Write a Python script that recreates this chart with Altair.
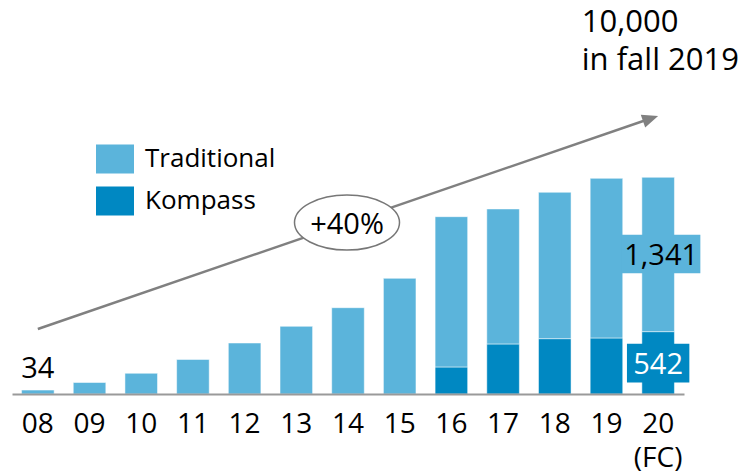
import altair as alt
import pandas as pd

years = ["08", "09", "10", "11", "12", "13", "14", "15", "16", "17", "18", "19", "20"]
traditional = [34, 100, 180, 300, 443, 588, 750, 1005, 1306, 1173, 1272, 1387, 1341]
kompass = [0, 0, 0, 0, 0, 0, 0, 0, 235, 435, 481, 487, 542]
series = ["Traditional", "Kompass"]
colors = ["#5BB4DB", "#0088C2"]

FONT = "Open Sans"
Y_MAX = 3424
GRAY = "#808080"

rows = []
for i, yr in enumerate(years):
    if kompass[i] > 0:
        rows.append({"year": yr, "series": "Kompass", "value": kompass[i], "ord": 0})
    rows.append({"year": yr, "series": "Traditional", "value": traditional[i], "ord": 1})
df = pd.DataFrame(rows)

xscale = alt.Scale(domain=years, paddingInner=0.37, paddingOuter=0.185)
yscale = alt.Scale(domain=[0, Y_MAX], nice=False, zero=True)

rect_legend = "M -1 -0.76 H 1 V 0.76 H -1 Z"

bars = alt.Chart(df).mark_bar(stroke="white", strokeWidth=0.5).encode(
    x=alt.X("year:N", scale=xscale, sort=years,
            axis=alt.Axis(title=None, labelAngle=0,
                          labelExpr="datum.value == '20' ? ['20', '(FC)'] : datum.value",
                          labelFontSize=28, labelFont=FONT, labelColor="black",
                          labelPadding=16, labelLineHeight=34, ticks=False,
                          domainColor="#9a9a9a", domainWidth=2, zindex=1)),
    y=alt.Y("value:Q", scale=yscale, stack="zero", axis=None),
    color=alt.Color("series:N", scale=alt.Scale(domain=series, range=colors),
                    legend=alt.Legend(orient="none", legendX=84, legendY=140, title=None,
                                      symbolType=rect_legend, symbolSize=1444,
                                      symbolStrokeWidth=0, symbolOpacity=1,
                                      labelFontSize=26, labelFont=FONT, labelColor="black",
                                      labelOffset=11, rowPadding=8, padding=0)),
    order=alt.Order("ord:Q"),
)

# growth arrow
arrow_df = pd.DataFrame({"x": ["08"], "x2": ["20"], "y": [565], "y2": [2416]})
arrow_line = alt.Chart(arrow_df).mark_rule(color=GRAY, strokeWidth=2.5, x2Offset=-12, y2Offset=4).encode(
    x=alt.X("x:N", scale=xscale), x2="x2:N",
    y=alt.Y("y:Q", scale=yscale), y2="y2:Q",
)
head_df = pd.DataFrame({"x": ["20"], "y": [2416]})
arrow_head = alt.Chart(head_df).mark_point(
    shape="M 0 -1 L 0.85 1 L -0.85 1 Z", size=256, angle=71, filled=True,
    color=GRAY, opacity=1, xOffset=-7.6, yOffset=2.6,
).encode(x=alt.X("x:N", scale=xscale), y=alt.Y("y:Q", scale=yscale))

# +40% ellipse
ell_df = pd.DataFrame({"x": ["14"], "y": [1490], "label": ["+40%"]})
ellipse = alt.Chart(ell_df).mark_point(
    shape="M -1 0 A 1 0.524 0 1 1 1 0 A 1 0.524 0 1 1 -1 0 Z", size=11025,
    filled=True, fill="white", stroke="#777777", strokeWidth=1.5, opacity=1, fillOpacity=1,
    xOffset=-1,
).encode(x=alt.X("x:N", scale=xscale), y=alt.Y("y:Q", scale=yscale))
ell_text = alt.Chart(ell_df).mark_text(
    fontSize=29, font=FONT, color="black", baseline="middle", align="center", dx=-1, dy=2,
).encode(x=alt.X("x:N", scale=xscale), y=alt.Y("y:Q", scale=yscale), text="label:N")

# first value label
first_df = pd.DataFrame({"x": ["08"], "y": [34], "label": ["34"]})
first_lbl = alt.Chart(first_df).mark_text(
    fontSize=29, font=FONT, color="black", baseline="alphabetic", align="center", dy=-12,
).encode(x=alt.X("x:N", scale=xscale), y=alt.Y("y:Q", scale=yscale), text="label:N")

# last year boxed labels
trad_df = pd.DataFrame({"x": ["20"], "y": [1217], "label": ["1,341"]})
trad_box = alt.Chart(trad_df).mark_point(
    shape="M -1 -0.49 H 1 V 0.49 H -1 Z", size=6147, filled=True,
    color=colors[0], opacity=1, xOffset=3,
).encode(x=alt.X("x:N", scale=xscale), y=alt.Y("y:Q", scale=yscale))
trad_txt = alt.Chart(trad_df).mark_text(
    fontSize=29, font=FONT, color="black", baseline="middle", align="center", dx=3, dy=2,
).encode(x=alt.X("x:N", scale=xscale), y=alt.Y("y:Q", scale=yscale), text="label:N")

komp_df = pd.DataFrame({"x": ["20"], "y": [269], "label": ["542"]})
komp_box = alt.Chart(komp_df).mark_point(
    shape="M -1 -0.62 H 1 V 0.62 H -1 Z", size=3894, filled=True,
    color=colors[1], opacity=1,
).encode(x=alt.X("x:N", scale=xscale), y=alt.Y("y:Q", scale=yscale))
komp_txt = alt.Chart(komp_df).mark_text(
    fontSize=29, font=FONT, color="white", baseline="middle", align="center", dy=2,
).encode(x=alt.X("x:N", scale=xscale), y=alt.Y("y:Q", scale=yscale), text="label:N")

# top-right annotation
note_df = pd.DataFrame({"x": ["18"], "y": [3143], "label": ["10,000\nin fall 2019"]})
note = alt.Chart(note_df).mark_text(
    fontSize=31, font=FONT, color="black", baseline="alphabetic", align="left",
    dx=27, lineBreak="\n", lineHeight=38,
).encode(x=alt.X("x:N", scale=xscale), y=alt.Y("y:Q", scale=yscale), text="label:N")

chart = alt.layer(
    bars, arrow_line, arrow_head, ellipse, ell_text, first_lbl,
    trad_box, trad_txt, komp_box, komp_txt, note,
).properties(
    width=672, height=394,
    autosize=alt.AutoSizeParams(type="none"),
    padding={"left": 12, "top": 0, "right": 59, "bottom": 79},
).configure_view(stroke=None)

chart.save("out.html", embed_options={"renderer": "svg", "actions": False})
